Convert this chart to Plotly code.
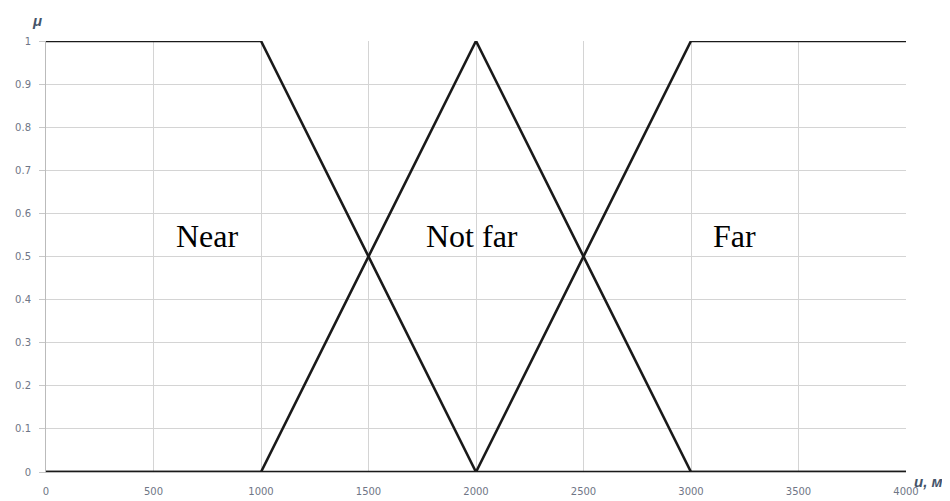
import plotly.graph_objects as go

near_x = [0, 1000, 2000, 4000]
near_y = [1, 1, 0, 0]
notfar_x = [0, 1000, 2000, 3000, 4000]
notfar_y = [0, 0, 1, 0, 0]
far_x = [0, 2000, 3000, 4000]
far_y = [0, 0, 1, 1]

labels = ["Near", "Not far", "Far"]
label_x = [752, 1980, 3200]
label_y = [0.548, 0.548, 0.548]

x_ticks = [0, 500, 1000, 1500, 2000, 2500, 3000, 3500, 4000]
y_ticks = [0, 0.1, 0.2, 0.3, 0.4, 0.5, 0.6, 0.7, 0.8, 0.9, 1]

fig = go.Figure()
for xs, ys in [(near_x, near_y), (notfar_x, notfar_y), (far_x, far_y)]:
    fig.add_trace(go.Scatter(x=xs, y=ys, mode="lines",
                             line=dict(color="#1a1a1a", width=2.6),
                             showlegend=False, hoverinfo="skip"))

for t, lx, ly in zip(labels, label_x, label_y):
    fig.add_annotation(x=lx, y=ly, text=t, showarrow=False,
                       font=dict(family="Liberation Sans", size=32, color="#000000")
                       if False else dict(family="Liberation Serif", size=32, color="#000000"),
                       xanchor="center", yanchor="middle")

fig.add_annotation(xref="paper", yref="paper", x=0.0, y=1.0, xshift=-9, yshift=21,
                   text="<i><b>μ</b></i>", showarrow=False,
                   font=dict(family="Liberation Sans", size=15, color="#44546a"),
                   xanchor="center", yanchor="middle")
fig.add_annotation(xref="paper", yref="paper", x=1.0, y=0.0, xshift=22, yshift=-9,
                   text="<i><b>u, м</b></i>", showarrow=False,
                   font=dict(family="Liberation Sans", size=15, color="#44546a"),
                   xanchor="center", yanchor="middle")

tickfont = dict(family="DejaVu Sans", size=10, color="#6f7686")

fig.update_layout(
    width=950, height=501,
    margin=dict(l=38, r=52, t=33, b=37, autoexpand=False),
    plot_bgcolor="white", paper_bgcolor="white",
    xaxis=dict(range=[0, 4000], tickvals=x_ticks, showgrid=True, automargin=False,
               gridcolor="#d4d4d4", gridwidth=1, zeroline=False,
               showline=True, linecolor="#bbbbbb", mirror=False,
               tickfont=tickfont, ticks="", ticklen=0, ticklabelstandoff=10),
    yaxis=dict(range=[0, 1], tickvals=y_ticks, showgrid=True, automargin=False,
               gridcolor="#d4d4d4", gridwidth=1, zeroline=False,
               showline=True, linecolor="#bbbbbb",
               tickfont=tickfont, ticks="outside", ticklen=6,
               tickcolor="#c8c8c8", ticklabelstandoff=6),
)

fig.write_html("out.html")
